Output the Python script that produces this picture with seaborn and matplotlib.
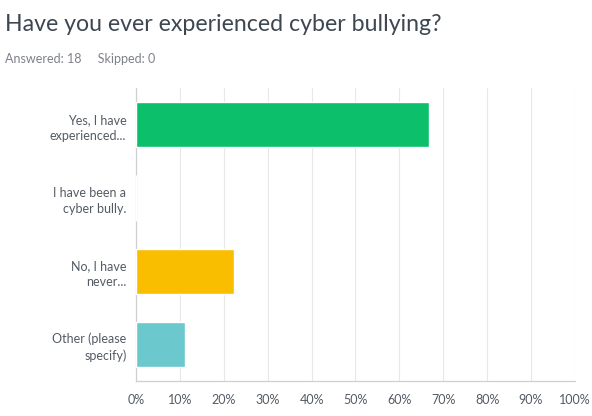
import pandas as pd
import matplotlib.pyplot as plt
import seaborn as sns

answers = ["Yes, I have\nexperienced...", "I have been a\ncyber bully.", "No, I have\nnever...", "Other (please\nspecify)"]
percents = [66.67, 0.0, 22.22, 11.11]
bar_colors = ["#0cbf6b", "#4a90d9", "#f9be00", "#6bc8cd"]
x_ticks = [0, 10, 20, 30, 40, 50, 60, 70, 80, 90, 100]

df = pd.DataFrame({"answer": answers, "percent": percents})

sns.set_style("white")
plt.rcParams['font.family'] = ['Lato', 'DejaVu Sans']

fig = plt.figure(figsize=(5.92, 4.16), dpi=100)
ax = fig.add_axes([0.23, 0.084, 0.741, 0.704])

sns.barplot(data=df, y="answer", x="percent", hue="answer", palette=bar_colors,
            saturation=1, legend=False, width=0.62, ax=ax, orient="h", zorder=3)

ax.set_xlim(0, 100)
ax.set_ylim(3.5, -0.5)
ax.set_xticks(x_ticks)
ax.set_xticklabels([f"{t}%" for t in x_ticks])
ax.set_xlabel("")
ax.set_ylabel("")
ax.grid(axis="x", color="#e8e8e8", linewidth=0.8, zorder=0)
for s in ["top", "right"]:
    ax.spines[s].set_visible(False)
for s in ["left", "bottom"]:
    ax.spines[s].set_color("#cfcfcf")
    ax.spines[s].set_linewidth(0.9)
ax.tick_params(axis="both", length=0, labelsize=9, labelcolor="#545b64")
ax.tick_params(axis="x", pad=9)
ax.tick_params(axis="y", pad=7)
for lbl in ax.get_yticklabels():
    lbl.set_horizontalalignment("right")
    lbl.set_multialignment("right")
    lbl.set_linespacing(1.4)

fig.text(0.008, 0.94, "Have you ever experienced cyber bullying?", fontsize=16.7,
         color="#3d4752", va="center", ha="left")
fig.text(0.008, 0.858, "Answered: 18     Skipped: 0", fontsize=9,
         color="#7d8188", va="center", ha="left")

fig.savefig("out.png", dpi=100)
